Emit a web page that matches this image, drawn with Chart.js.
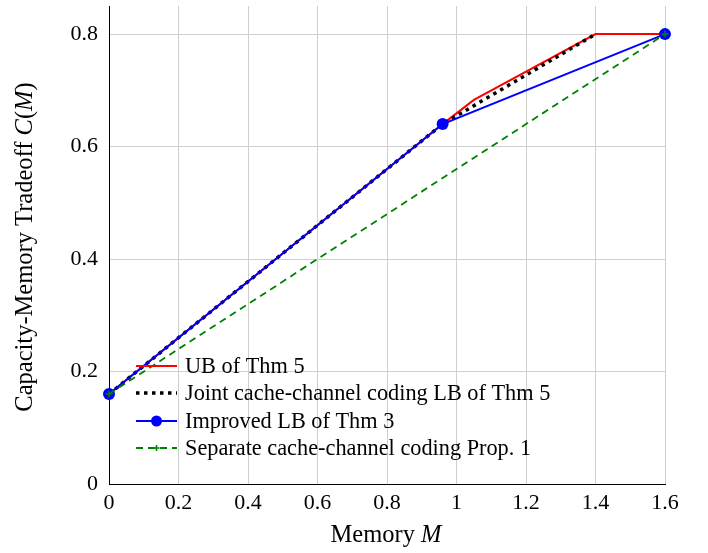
<!DOCTYPE html>
<html>
<head>
<meta charset="utf-8">
<script src="https://cdn.jsdelivr.net/npm/chart.js@4.4.0/dist/chart.umd.min.js"></script>
<style>
  html, body { margin: 0; padding: 0; background: #fff; }
  #wrap { width: 708px; height: 553px; }
</style>
</head>
<body>
<div id="wrap"><canvas id="chart" width="708" height="553"></canvas></div>
<script>
// Data
const memUB = [0, 0.96, 1.05, 1.4, 1.6];
const capUB = [0.16, 0.64, 0.683, 0.8, 0.8];

const memJoint = [0, 0.96, 1.4];
const capJoint = [0.16, 0.64, 0.8];

const memImproved = [0, 0.96, 1.6];
const capImproved = [0.16, 0.64, 0.8];

const memSeparate = [0, 1.6];
const capSeparate = [0.16, 0.8];

const xTicks = [0, 0.2, 0.4, 0.6, 0.8, 1, 1.2, 1.4, 1.6];
const yTicks = [0, 0.2, 0.4, 0.6, 0.8];

const seriesLabels = [
  'UB of Thm 5',
  'Joint cache-channel coding LB of Thm 5',
  'Improved LB of Thm 3',
  'Separate cache-channel coding Prop. 1'
];

const SERIF = '"Liberation Serif", "DejaVu Serif", serif';
const RED = '#ff0000';
const BLUE = '#0000ff';
const GREEN = '#008000';

function pts(xs, ys) {
  return xs.map((x, i) => ({ x: x, y: ys[i] }));
}

// Draw a run of text pieces, some italic, centred on the origin
function drawPieces(ctx, pieces, size) {
  let total = 0;
  pieces.forEach(p => {
    ctx.font = (p[1] ? 'italic ' : '') + size + 'px ' + SERIF;
    total += ctx.measureText(p[0]).width;
  });
  let x = -total / 2;
  pieces.forEach(p => {
    ctx.font = (p[1] ? 'italic ' : '') + size + 'px ' + SERIF;
    ctx.fillText(p[0], x, 0);
    x += ctx.measureText(p[0]).width;
  });
}

// Legend drawn inside plot area, plus axis titles with italic math
const decorPlugin = {
  id: 'decor',
  afterDraw(chart) {
    const ctx = chart.ctx;
    ctx.save();
    ctx.fillStyle = '#000';
    ctx.textBaseline = 'middle';
    ctx.textAlign = 'left';

    // axis titles
    ctx.save();
    ctx.translate(386, 536);
    drawPieces(ctx, [['Memory ', false], ['M', true]], 24.5);
    ctx.restore();

    ctx.save();
    ctx.translate(26, 247);
    ctx.rotate(-Math.PI / 2);
    drawPieces(ctx, [['Capacity-Memory Tradeoff ', false], ['C', true], ['(', false], ['M', true], [')', false]], 24.5);
    ctx.restore();

    // legend
    const x0 = 136, x1 = 177, tx = 185;
    const rows = [366, 393, 421, 448];
    const ds = chart.data.datasets;
    rows.forEach((y, i) => {
      const d = ds[i];
      ctx.save();
      ctx.strokeStyle = d.borderColor;
      ctx.lineWidth = d.borderWidth;
      ctx.setLineDash(d.borderDash || []);
      ctx.beginPath();
      ctx.moveTo(x0, y);
      ctx.lineTo(x1, y);
      ctx.stroke();
      ctx.setLineDash([]);
      const cx = (x0 + x1) / 2;
      if (i === 2) {
        ctx.fillStyle = BLUE;
        ctx.beginPath();
        ctx.arc(cx, y, 5.5, 0, Math.PI * 2);
        ctx.fill();
      }
      if (i === 3) {
        ctx.lineWidth = 1.5;
        ctx.beginPath();
        ctx.moveTo(cx - 3, y); ctx.lineTo(cx + 3, y);
        ctx.moveTo(cx, y - 3); ctx.lineTo(cx, y + 3);
        ctx.stroke();
      }
      ctx.restore();
      ctx.font = '22.3px ' + SERIF;
      ctx.fillStyle = '#000';
      ctx.fillText(seriesLabels[i], tx, y + 1);
    });
    ctx.restore();
  }
};

const ctx = document.getElementById('chart').getContext('2d');
new Chart(ctx, {
  type: 'line',
  data: {
    datasets: [
      {
        label: seriesLabels[0],
        data: pts(memUB, capUB),
        borderColor: RED,
        borderWidth: 2,
        pointRadius: 0,
        order: 4,
        clip: false
      },
      {
        label: seriesLabels[1],
        data: pts(memJoint, capJoint),
        borderColor: '#000',
        borderWidth: 3.5,
        borderDash: [3.5, 4.5],
        borderCapStyle: 'butt',
        pointRadius: 0,
        order: 3,
        clip: false
      },
      {
        label: seriesLabels[2],
        data: pts(memImproved, capImproved),
        borderColor: BLUE,
        backgroundColor: BLUE,
        borderWidth: 2,
        pointRadius: 6,
        pointBorderWidth: 0,
        pointBackgroundColor: BLUE,
        order: 2,
        clip: false
      },
      {
        label: seriesLabels[3],
        data: pts(memSeparate, capSeparate),
        borderColor: GREEN,
        borderWidth: 1.8,
        borderDash: [7, 5],
        pointStyle: 'cross',
        pointRadius: 3.5,
        pointBorderWidth: 1.5,
        pointBorderColor: GREEN,
        order: 1,
        clip: false
      }
    ]
  },
  options: {
    responsive: false,
    animation: false,
    events: [],
    layout: { padding: { top: 5, right: 43, bottom: 0, left: 0 } },
    plugins: {
      legend: { display: false },
      tooltip: { enabled: false }
    },
    elements: { line: { tension: 0, fill: false } },
    scales: {
      x: {
        type: 'linear',
        min: 0,
        max: 1.6,
        afterBuildTicks: scale => { scale.ticks = xTicks.map(v => ({ value: v })); },
        afterFit: scale => { scale.height = 69; scale.paddingLeft = 0; scale.paddingRight = 0; },
        grid: { color: '#cfcfcf', lineWidth: 1, drawTicks: false },
        border: { display: true, color: '#000', width: 1 },
        ticks: {
          padding: 6,
          color: '#000',
          font: { family: SERIF, size: 22 },
          callback: v => String(v)
        }
      },
      y: {
        type: 'linear',
        min: 0,
        max: 0.85,
        afterBuildTicks: scale => { scale.ticks = yTicks.map(v => ({ value: v })); },
        afterFit: scale => { scale.width = 109; scale.paddingTop = 0; scale.paddingBottom = 0; },
        grid: { color: '#cfcfcf', lineWidth: 1, drawTicks: false },
        border: { display: true, color: '#000', width: 1 },
        ticks: {
          padding: 11,
          color: '#000',
          font: { family: SERIF, size: 22 },
          callback: v => String(v)
        }
      }
    }
  },
  plugins: [decorPlugin]
});
</script>
</body>
</html>
